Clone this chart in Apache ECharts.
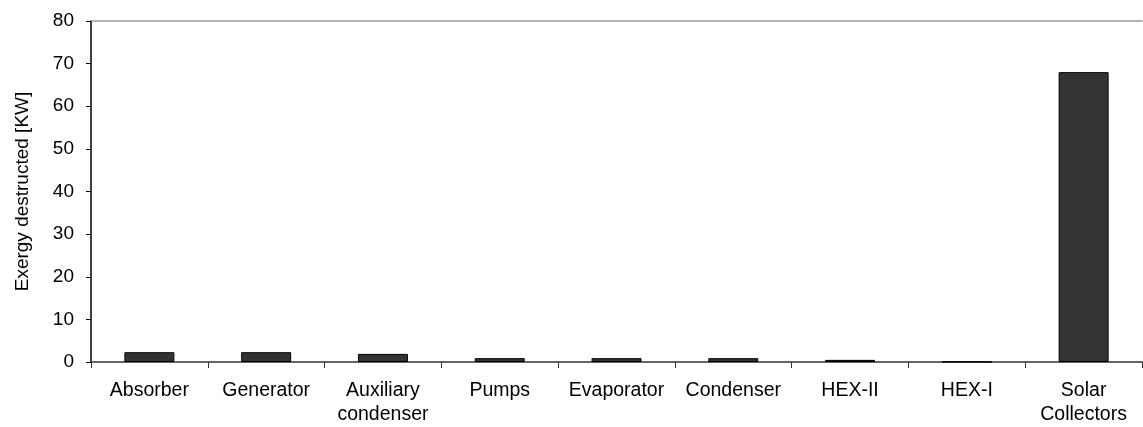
<!DOCTYPE html>
<html>
<head>
<meta charset="utf-8">
<script src="https://cdn.jsdelivr.net/npm/echarts@6/dist/echarts.min.js"></script>
<style>html,body{margin:0;padding:0;background:#fff}#c{width:1143px;height:427px}</style>
</head>
<body>
<div id="c"></div>
<script>
const categories = ['Absorber','Generator','Auxiliary\ncondenser','Pumps','Evaporator','Condenser','HEX-II','HEX-I','Solar\nCollectors'];
const values = [2.3, 2.3, 1.9, 0.9, 0.9, 0.9, 0.5, 0.05, 68.0];
const yTicks = [0,10,20,30,40,50,60,70,80];
const yTitle = 'Exergy destructed [KW]';

const chart = echarts.init(document.getElementById('c'));
const font = 'Liberation Sans, Arial, sans-serif';
chart.setOption({
  animation: false,
  grid: {left: 91, right: 1, top: 21, bottom: 64},
  xAxis: [{
    type: 'category', data: categories, position: 'bottom',
    axisLine: {lineStyle: {color: '#333', width: 1.5}},
    axisTick: {show: true, alignWithLabel: false, length: 6, lineStyle: {color: '#333'}},
    axisLabel: {color: '#000', fontSize: 19.5, fontFamily: font, margin: 17, lineHeight: 24, interval: 0}
  }, {
    type: 'category', data: categories, position: 'top',
    axisLine: {lineStyle: {color: '#999', width: 1.5}},
    axisTick: {show: false}, axisLabel: {show: false}
  }],
  yAxis: {
    type: 'value', min: yTicks[0], max: yTicks[yTicks.length-1], interval: 10,
    name: yTitle, nameLocation: 'middle', nameGap: 59, nameRotate: 90,
    nameTextStyle: {color: '#000', fontSize: 19, fontFamily: font},
    axisLine: {show: true, lineStyle: {color: '#000', width: 1.5}},
    axisTick: {show: true, length: 5, inside: false, lineStyle: {color: '#000'}},
    axisLabel: {color: '#000', fontSize: 19, fontFamily: font, margin: 17},
    splitLine: {show: false}
  },
  series: [{
    type: 'bar', data: values, barWidth: 50,
    itemStyle: {color: '#333333', borderColor: '#000', borderWidth: 1}
  }]
});
</script>
</body>
</html>
